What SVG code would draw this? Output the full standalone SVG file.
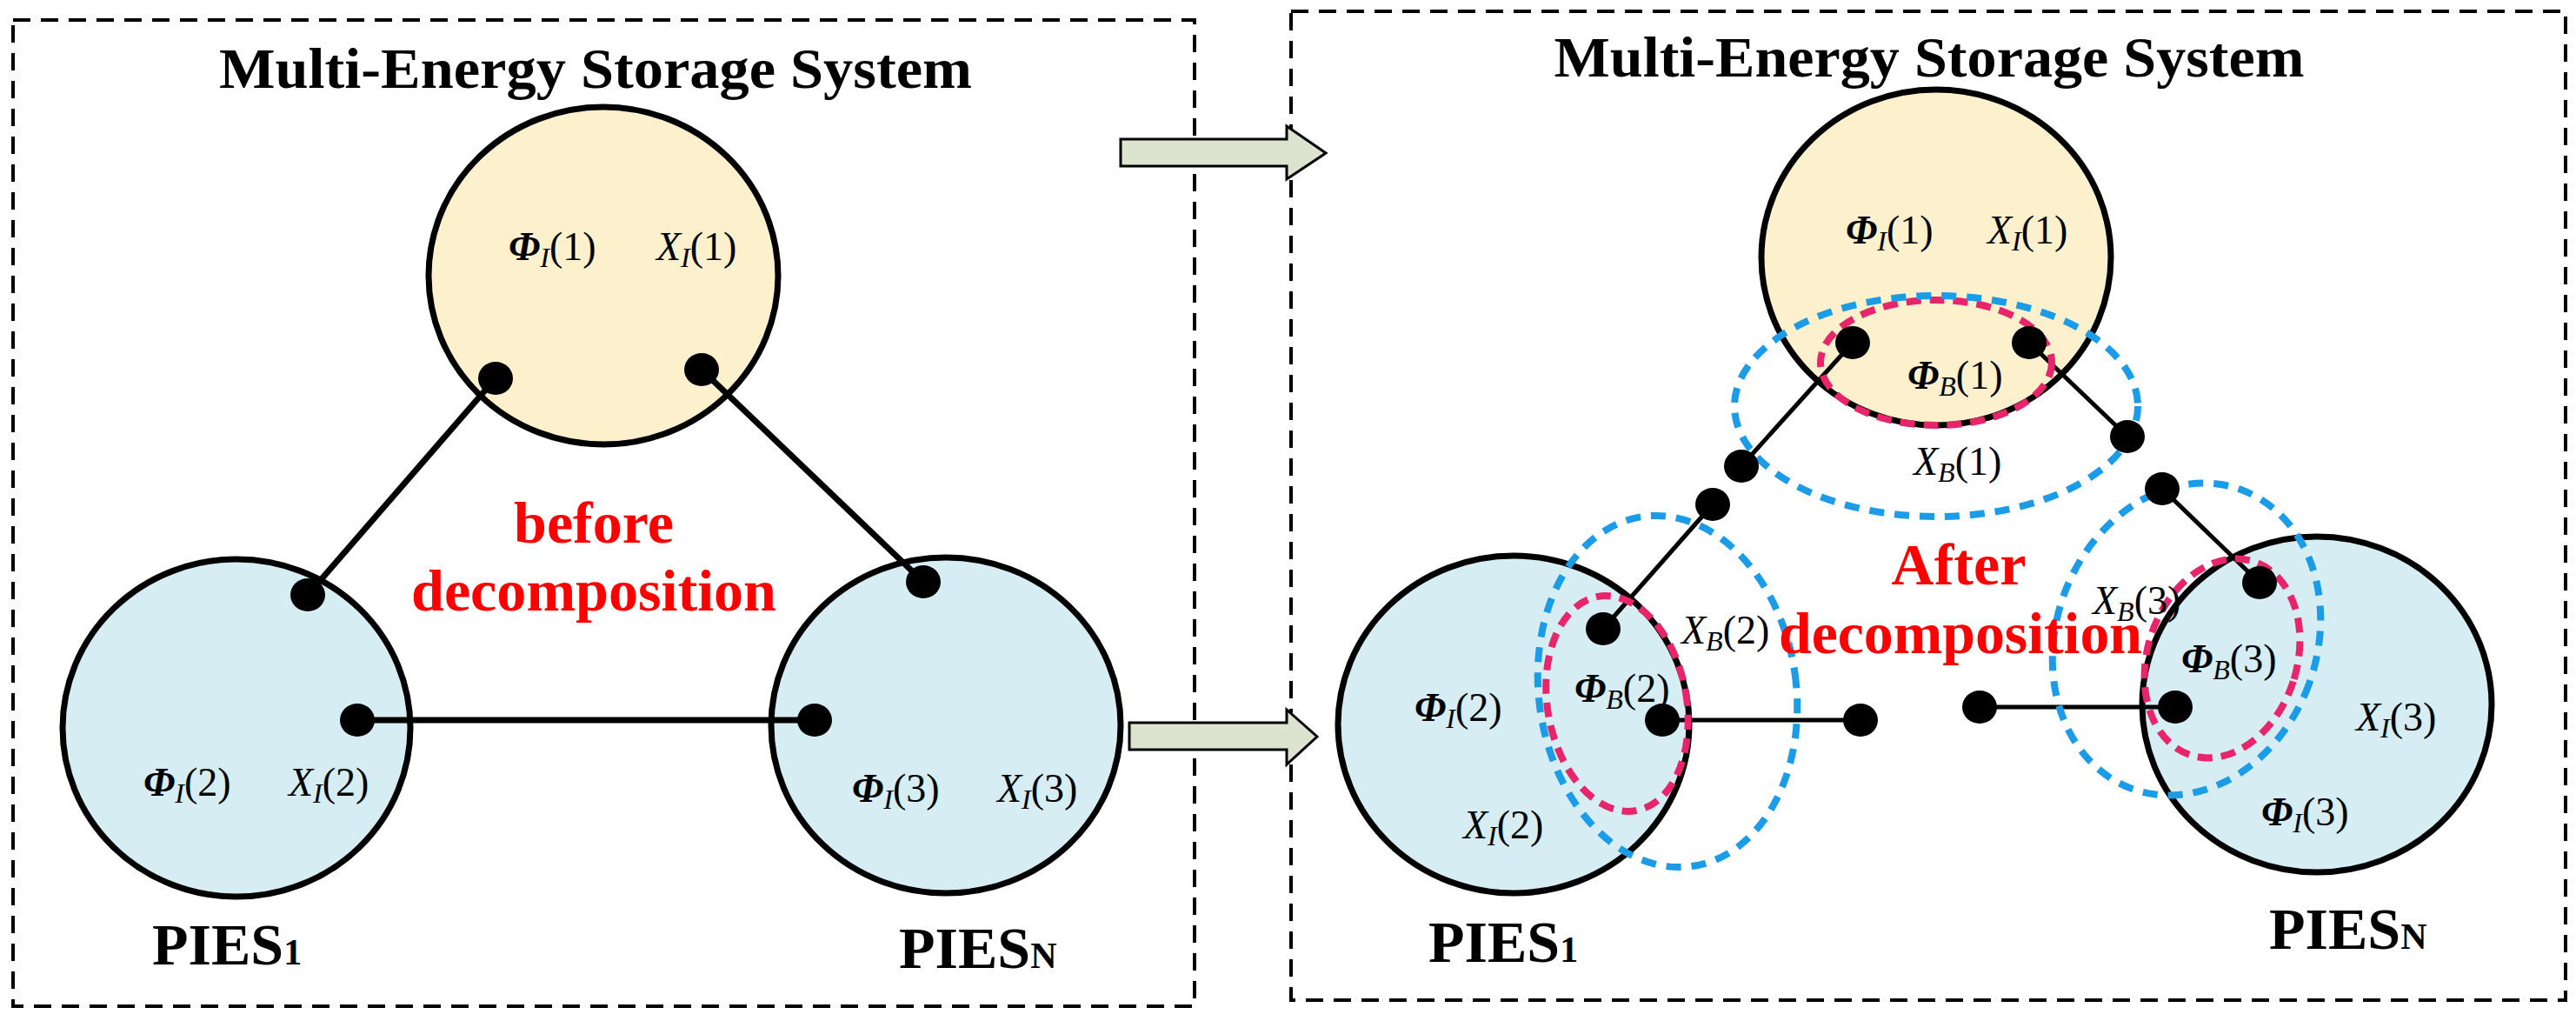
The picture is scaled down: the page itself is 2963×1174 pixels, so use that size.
<svg xmlns="http://www.w3.org/2000/svg" width="2963" height="1174" viewBox="0 0 2963 1174">
<style>
text{font-family:"Liberation Serif","Times New Roman",serif;}
.title{font-size:66px;font-weight:bold;text-anchor:middle;}
.red{font-size:68px;font-weight:bold;fill:#ff0000;text-anchor:middle;}
.pies{font-size:68px;font-weight:bold;}
.lab{font-size:46px;}
.phi{font-weight:bold;font-style:italic;}
.sub{font-style:italic;font-size:32px;}
.xi{font-style:italic;}
.box{fill:none;stroke:#000;stroke-width:4;stroke-dasharray:20 12;}
.ell{stroke:#000;stroke-width:7;}
.y{fill:#fdf0cc;}
.b{fill:#d5edf3;}
.dot{fill:#000;}
.ln{stroke:#000;stroke-width:7;fill:none;}
.ln2{stroke:#000;stroke-width:5;fill:none;}
.bd{fill:none;stroke:#1a9ce8;stroke-width:8;stroke-dasharray:17 12;}
.rd{fill:none;stroke:#e8246a;stroke-width:8;stroke-dasharray:17 10;}
.arr{fill:#dce3cf;stroke:#000;stroke-width:3;}
</style>
<rect class="box" x="15" y="23" width="1359" height="1134"/>
<rect class="box" x="1485" y="13" width="1466" height="1137"/>
<g id="arrows">
<path class="arr" d="M1289,160 H1480 V145 L1525,176 L1480,206 V191 H1289 Z"/>
<path class="arr" d="M1299,831 H1480 V816 L1515,847 L1480,879 V862 H1299 Z"/>
</g>
<g id="left">
<text class="title" x="685" y="101" textLength="866" lengthAdjust="spacingAndGlyphs">Multi-Energy Storage System</text>
<g id="L-mess"><ellipse class="ell y" cx="694" cy="317" rx="201" ry="194"/></g>
<g id="L-pies1"><ellipse class="ell b" cx="272" cy="837" rx="200" ry="194"/></g>
<g id="L-piesn"><ellipse class="ell b" cx="1088" cy="834" rx="201" ry="193"/></g>
<g id="L-connectors">
<line class="ln" x1="570" y1="435" x2="354" y2="684"/>
<line class="ln" x1="807" y1="425" x2="1062" y2="669"/>
<line class="ln" x1="411" y1="828" x2="937" y2="828"/>
</g>
<g class="dot">
<ellipse cx="570" cy="435" rx="20" ry="19"/><ellipse cx="807" cy="425" rx="20" ry="19"/>
<ellipse cx="354" cy="684" rx="20" ry="19"/><ellipse cx="1062" cy="669" rx="20" ry="19"/>
<ellipse cx="411" cy="828" rx="20" ry="19"/><ellipse cx="937" cy="828" rx="20" ry="19"/>
</g>
<text class="lab" x="585" y="299"><tspan class="phi">Φ</tspan><tspan class="sub" dy="8">I</tspan><tspan dy="-8">(1)</tspan></text>
<text class="lab" x="755" y="299"><tspan class="xi">X</tspan><tspan class="sub" dy="8">I</tspan><tspan dy="-8">(1)</tspan></text>
<text class="lab" x="165" y="915"><tspan class="phi">Φ</tspan><tspan class="sub" dy="8">I</tspan><tspan dy="-8">(2)</tspan></text>
<text class="lab" x="332" y="915"><tspan class="xi">X</tspan><tspan class="sub" dy="8">I</tspan><tspan dy="-8">(2)</tspan></text>
<text class="lab" x="980" y="922"><tspan class="phi">Φ</tspan><tspan class="sub" dy="8">I</tspan><tspan dy="-8">(3)</tspan></text>
<text class="lab" x="1147" y="922"><tspan class="xi">X</tspan><tspan class="sub" dy="8">I</tspan><tspan dy="-8">(3)</tspan></text>
<text class="red" x="683" y="624">before</text>
<text class="red" x="683" y="702" textLength="420" lengthAdjust="spacingAndGlyphs">decomposition</text>
<text class="pies" x="175" y="1109">PIES<tspan font-size="42">1</tspan></text>
<text class="pies" x="1034" y="1113">PIES<tspan font-size="42">N</tspan></text>
</g>
<g id="right">
<text class="title" x="2219" y="88" textLength="863" lengthAdjust="spacingAndGlyphs">Multi-Energy Storage System</text>
<g id="R-mess"><ellipse class="ell y" cx="2227" cy="296" rx="201" ry="193"/></g>
<g id="R-pies1"><ellipse class="ell b" cx="1741" cy="833" rx="202" ry="194"/></g>
<g id="R-piesn"><ellipse class="ell b" cx="2665" cy="810" rx="201" ry="193"/></g>
<g id="R-connectors">
<line class="ln2" x1="2131" y1="394" x2="2003" y2="536"/>
<line class="ln2" x1="2334" y1="394" x2="2447" y2="502"/>
<line class="ln2" x1="1970" y1="580" x2="1844" y2="723"/>
<line class="ln2" x1="1912" y1="828" x2="2140" y2="828"/>
<line class="ln2" x1="2277" y1="813" x2="2502" y2="813"/>
<line class="ln2" x1="2487" y1="562" x2="2599" y2="670"/>
</g>
<g id="boundaries">
<ellipse class="rd" cx="2227" cy="417" rx="133" ry="72"/>
<ellipse class="rd" cx="1860" cy="809" rx="80" ry="125" transform="rotate(-10 1860 809)"/>
<ellipse class="rd" cx="2556" cy="757" rx="86" ry="117" transform="rotate(18 2556 757)"/>
<ellipse class="bd" cx="2227" cy="467" rx="232" ry="127"/>
<ellipse class="bd" cx="1918" cy="795" rx="148" ry="203" transform="rotate(-8 1918 795)"/>
<ellipse class="bd" cx="2515" cy="735" rx="150" ry="183" transform="rotate(20 2515 735)"/>
</g>
<g class="dot">
<ellipse cx="2131" cy="394" rx="20" ry="19"/><ellipse cx="2334" cy="394" rx="20" ry="19"/>
<ellipse cx="2447" cy="502" rx="20" ry="19"/><ellipse cx="2003" cy="536" rx="20" ry="19"/>
<ellipse cx="1970" cy="580" rx="20" ry="19"/><ellipse cx="1844" cy="723" rx="20" ry="19"/>
<ellipse cx="1912" cy="828" rx="20" ry="19"/><ellipse cx="2140" cy="828" rx="20" ry="19"/>
<ellipse cx="2277" cy="813" rx="20" ry="19"/><ellipse cx="2502" cy="813" rx="20" ry="19"/>
<ellipse cx="2599" cy="670" rx="20" ry="19"/><ellipse cx="2487" cy="562" rx="20" ry="19"/>
</g>
<text class="lab" x="2123" y="280"><tspan class="phi">Φ</tspan><tspan class="sub" dy="8">I</tspan><tspan dy="-8">(1)</tspan></text>
<text class="lab" x="2286" y="280"><tspan class="xi">X</tspan><tspan class="sub" dy="8">I</tspan><tspan dy="-8">(1)</tspan></text>
<text class="lab" x="2194" y="447"><tspan class="phi">Φ</tspan><tspan class="sub" dy="8">B</tspan><tspan dy="-8">(1)</tspan></text>
<text class="lab" x="2201" y="546"><tspan class="xi">X</tspan><tspan class="sub" dy="8">B</tspan><tspan dy="-8">(1)</tspan></text>
<text class="lab" x="1934" y="740"><tspan class="xi">X</tspan><tspan class="sub" dy="8">B</tspan><tspan dy="-8">(2)</tspan></text>
<text class="lab" x="1811" y="807"><tspan class="phi">Φ</tspan><tspan class="sub" dy="8">B</tspan><tspan dy="-8">(2)</tspan></text>
<text class="lab" x="1627" y="829"><tspan class="phi">Φ</tspan><tspan class="sub" dy="8">I</tspan><tspan dy="-8">(2)</tspan></text>
<text class="lab" x="1683" y="964"><tspan class="xi">X</tspan><tspan class="sub" dy="8">I</tspan><tspan dy="-8">(2)</tspan></text>
<text class="lab" x="2407" y="706"><tspan class="xi">X</tspan><tspan class="sub" dy="8">B</tspan><tspan dy="-8">(3)</tspan></text>
<text class="lab" x="2509" y="773"><tspan class="phi">Φ</tspan><tspan class="sub" dy="8">B</tspan><tspan dy="-8">(3)</tspan></text>
<text class="lab" x="2710" y="840"><tspan class="xi">X</tspan><tspan class="sub" dy="8">I</tspan><tspan dy="-8">(3)</tspan></text>
<text class="lab" x="2601" y="949"><tspan class="phi">Φ</tspan><tspan class="sub" dy="8">I</tspan><tspan dy="-8">(3)</tspan></text>
<text class="red" x="2253" y="672">After</text>
<text class="red" x="2255" y="751" textLength="418" lengthAdjust="spacingAndGlyphs">decomposition</text>
<text class="pies" x="1643" y="1106">PIES<tspan font-size="42">1</tspan></text>
<text class="pies" x="2610" y="1091">PIES<tspan font-size="42">N</tspan></text>
</g>
</svg>
